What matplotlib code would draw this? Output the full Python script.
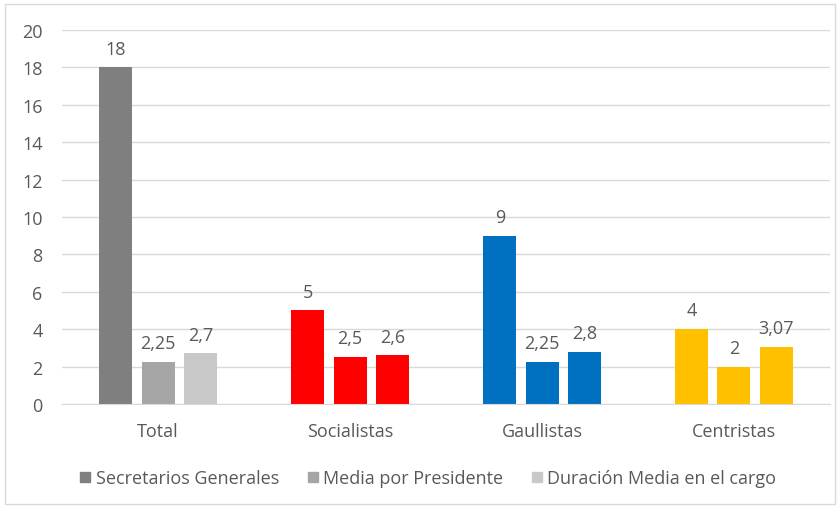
import numpy as np
import matplotlib.pyplot as plt
from matplotlib.patches import Rectangle, Patch

categorias = ["Total", "Socialistas", "Gaullistas", "Centristas"]
series = ["Secretarios Generales", "Media por Presidente", "Duración Media en el cargo"]
secretarios = [18, 5, 9, 4]
media_presidente = [2.25, 2.5, 2.25, 2]
duracion_media = [2.7, 2.6, 2.8, 3.07]
etiquetas = [["18", "5", "9", "4"],
             ["2,25", "2,5", "2,25", "2"],
             ["2,7", "2,6", "2,8", "3,07"]]

colores = [["#7f7f7f", "#a5a5a5", "#c8c8c8"],
           ["#ff0000", "#ff0000", "#ff0000"],
           ["#0070c0", "#0070c0", "#0070c0"],
           ["#ffc000", "#ffc000", "#ffc000"]]

plt.rcParams['font.family'] = ['Open Sans', 'DejaVu Sans']
gris = "#595959"

fig = plt.figure(figsize=(8.4, 5.1), dpi=100)
ax = fig.add_axes([0.074, 0.206, 0.914, 0.733])

x = np.arange(len(categorias))
ancho = 0.172
paso = 0.22
valores = [secretarios, media_presidente, duracion_media]
for j, vals in enumerate(valores):
    pos = x + (j - 1) * paso
    cols = [colores[i][j] for i in range(len(categorias))]
    ax.bar(pos, vals, width=ancho, color=cols, zorder=3)
    for i, v in enumerate(vals):
        ax.annotate(etiquetas[j][i], (pos[i], v), xytext=(0, 7), textcoords="offset points",
                    ha="center", va="bottom", fontsize=13, color=gris)

ax.set_xlim(-0.5, 3.5)
ax.set_ylim(0, 20)
ax.set_yticks(range(0, 21, 2))
ax.set_xticks(x)
ax.set_xticklabels(categorias)
ax.tick_params(axis="both", length=0, labelsize=13, colors=gris)
ax.tick_params(axis="y", pad=14)
ax.tick_params(axis="x", pad=13)
ax.grid(axis="y", color="#d9d9d9", linewidth=1, zorder=0)
for s in ["top", "right", "left"]:
    ax.spines[s].set_visible(False)
ax.spines["bottom"].set_color("#d9d9d9")
ax.spines["bottom"].set_zorder(4)

handles = [Patch(color=colores[0][j]) for j in range(3)]
fig.legend(handles, series, loc="center", bbox_to_anchor=(0.51, 0.06), ncol=3, frameon=False,
           fontsize=13, labelcolor=gris, handlelength=0.55, handleheight=0.55, handletextpad=0.3,
           columnspacing=1.6)

fig.patches.append(Rectangle((0.006, 0.01), 0.988, 0.98, transform=fig.transFigure,
                             fill=False, edgecolor="#d9d9d9", linewidth=1))

fig.savefig("out.png", dpi=100)
